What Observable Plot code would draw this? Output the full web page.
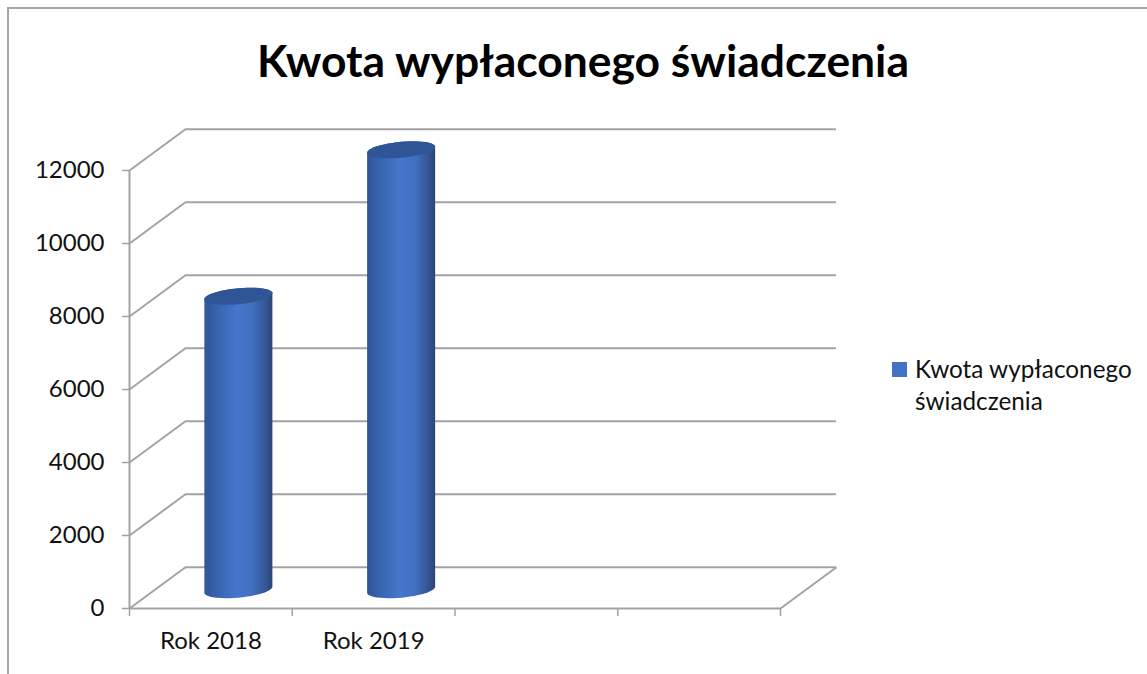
<!DOCTYPE html>
<html lang="pl">
<head>
<meta charset="utf-8">
<script src="https://cdn.jsdelivr.net/npm/d3@7"></script>
<script src="https://cdn.jsdelivr.net/npm/@observablehq/plot@0.6"></script>
<style>
  html, body { margin: 0; padding: 0; background: #fff; overflow: hidden; }
  #page { position: relative; width: 1147px; height: 674px; font-family: Lato, "Open Sans", sans-serif; color: #111; }
  #frame { position: absolute; left: 7px; top: 7px; right: 0; bottom: 0; border-top: 2px solid #a6a6a6; border-left: 2px solid #a6a6a6; }
  #title { position: absolute; left: 0; top: 0; width: 1166px; height: 100px; line-height: 120px; text-align: center; font-weight: 700; font-size: 44.4px; color: #000; }
  #chart { position: absolute; left: 0; top: 100px; }
  #chart svg { display: block; }
  #legend { position: absolute; left: 915px; top: 353px; width: 228px; font-size: 24.3px; line-height: 32px; }
  #legend i { position: absolute; left: -23px; top: 9px; width: 15px; height: 15px; background: #4472c4; }
</style>
</head>
<body>
<div id="page">
  <div id="frame"></div>
  <div id="title">Kwota wypłaconego świadczenia</div>
  <div id="chart"></div>
  <div id="legend"><i></i>Kwota wypłaconego<br>świadczenia</div>
</div>
<script>
const seriesName = "Kwota wypłaconego świadczenia";
const categories = ["Rok 2018", "Rok 2019"];
const values = [8040, 12050];
const yTicks = [0, 2000, 4000, 6000, 8000, 10000, 12000];
const xSlots = [0, 1, 2, 3, 4];

// 3-D box depth, in scale units
const depthX = 0.344, depthY = 1130;
const lift = 516;          // column base above the floor's front edge
const halfW = 0.209;       // column half width
const tiltY = 82, capY = 219; // cap ellipse shear and minor radius

const ring = d3.range(0, 49).map(i => i / 48 * 2 * Math.PI);
const center = i => i + 0.5 + 0.169;
const capPt = (i, v, t) => ({
  id: i,
  x: center(i) + halfW * Math.cos(t),
  y: v + lift + tiltY * Math.cos(t) + capY * Math.sin(t)
});
const caps = values.flatMap((v, i) => ring.map(t => capPt(i, v, t)));
// silhouette: upper arc of the top cap, then lower arc of the base
const bodies = values.flatMap((v, i) => [
  ...ring.filter(t => t <= Math.PI + 1e-9).map(t => capPt(i, v, t)),
  ...ring.filter(t => t >= Math.PI - 1e-9).map(t => capPt(i, 0, t))
]);

const gridStyle = { stroke: "#a3a3a3", strokeWidth: 2 };

const plot = Plot.plot({
  width: 1147, height: 574,
  marginLeft: 129, marginRight: 367, marginTop: 70, marginBottom: 66,
  style: { fontFamily: "Lato, 'Open Sans', sans-serif", background: "transparent", overflow: "visible" },
  x: { domain: [0, 4] },
  y: { domain: [0, 12000] },
  marks: [
    Plot.ruleY(yTicks, { y: d => d + depthY, x1: depthX, x2: 4 + depthX, ...gridStyle }),
    Plot.link(yTicks, { x1: 0, y1: d => d, x2: depthX, y2: d => d + depthY, ...gridStyle }),
    Plot.link([0], { x1: 4, y1: 0, x2: 4 + depthX, y2: depthY, ...gridStyle }),
    Plot.ruleY([0], { x1: 0, x2: 4, ...gridStyle }),
    Plot.ruleX([0], { y1: 0, y2: 12000, ...gridStyle }),
    Plot.axisY({ ticks: yTicks, tickSize: 7, tickPadding: 18, tickFormat: d => String(d), label: null, fontSize: 24, stroke: "#a3a3a3", color: "#a3a3a3", fill: "#111", strokeWidth: 1.5 }),
    Plot.axisX({ ticks: xSlots, tickSize: 8, tickFormat: () => "", label: null, stroke: "#a3a3a3", strokeWidth: 1.5 }),
    Plot.axisX({ ticks: categories.map((c, i) => i + 0.5), tickSize: 0, tickPadding: 23, tickFormat: d => categories[d - 0.5], label: null, fontSize: 24, fill: "#111" }),
    Plot.line(bodies, { x: "x", y: "y", z: "id", fill: "url(#cyl)", stroke: "none" }),
    Plot.line(caps, { x: "x", y: "y", z: "id", fill: "#2f5597", stroke: "none" })
  ]
});
plot.setAttribute("aria-label", seriesName);

const NS = "http://www.w3.org/2000/svg";
const defs = document.createElementNS(NS, "defs");
const grad = document.createElementNS(NS, "linearGradient");
grad.setAttribute("id", "cyl");
[["0%", "#2f5597"], ["22%", "#3a66b2"], ["48%", "#4676cc"], ["70%", "#4270bf"], ["88%", "#35589a"], ["100%", "#2b4674"]].forEach(([o, c]) => {
  const s = document.createElementNS(NS, "stop");
  s.setAttribute("offset", o);
  s.setAttribute("stop-color", c);
  grad.appendChild(s);
});
defs.appendChild(grad);
plot.insertBefore(defs, plot.firstChild);
document.getElementById("chart").appendChild(plot);
</script>
</body>
</html>
